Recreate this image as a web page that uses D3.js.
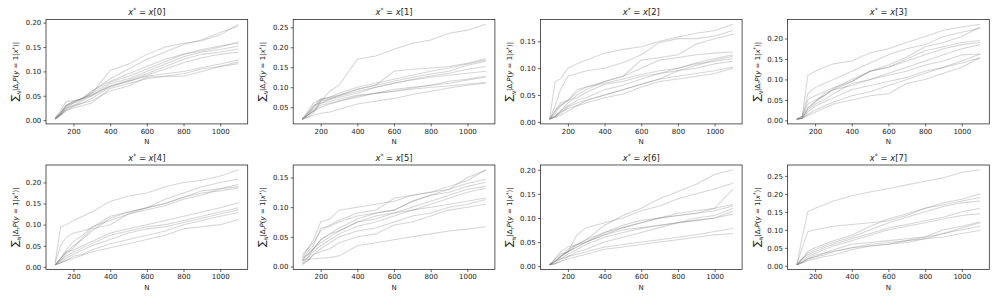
<!DOCTYPE html>
<html>
<head>
<meta charset="utf-8">
<script src="https://cdnjs.cloudflare.com/ajax/libs/d3/7.8.5/d3.min.js"></script>
<style>
  body { margin: 0; background: #fff; }
  text { font-family: "DejaVu Sans", sans-serif; fill: #222; }
</style>
</head>
<body>
<div id="chart"></div>
<script>
// Data: N values shared by every line
var nValues = [100, 130, 160, 200, 250, 300, 400, 500, 600, 700, 800, 900, 1000, 1100];

// panel titles index x[i]
var panelIndex = [0, 1, 2, 3, 4, 5, 6, 7];

// x ticks
var xTicks = [200, 400, 600, 800, 1000];

// y ticks per panel
var yTicks0 = [0.00, 0.05, 0.10, 0.15, 0.20];
var yTicks1 = [0.05, 0.10, 0.15, 0.20, 0.25];
var yTicks2 = [0.00, 0.05, 0.10, 0.15];
var yTicks3 = [0.00, 0.05, 0.10, 0.15, 0.20];
var yTicks4 = [0.00, 0.05, 0.10, 0.15, 0.20];
var yTicks5 = [0.00, 0.05, 0.10, 0.15];
var yTicks6 = [0.00, 0.05, 0.10, 0.15, 0.20];
var yTicks7 = [0.00, 0.05, 0.10, 0.15, 0.20, 0.25];

// series values, one list of lines per panel
var panel0 = [
  [0.003,0.015,0.030,0.038,0.045,0.055,0.102,0.115,0.135,0.150,0.158,0.163,0.175,0.197],
  [0.002,0.012,0.025,0.035,0.045,0.058,0.085,0.105,0.125,0.140,0.155,0.165,0.180,0.193],
  [0.004,0.020,0.038,0.040,0.045,0.060,0.080,0.095,0.110,0.125,0.135,0.142,0.150,0.161],
  [0.003,0.015,0.028,0.035,0.042,0.055,0.078,0.090,0.105,0.120,0.135,0.145,0.152,0.158],
  [0.002,0.012,0.025,0.030,0.040,0.050,0.075,0.085,0.100,0.115,0.130,0.140,0.145,0.152],
  [0.003,0.015,0.030,0.038,0.045,0.052,0.070,0.082,0.095,0.110,0.125,0.135,0.140,0.146],
  [0.002,0.010,0.020,0.028,0.035,0.045,0.068,0.080,0.092,0.105,0.118,0.128,0.135,0.140],
  [0.003,0.015,0.030,0.038,0.045,0.050,0.070,0.080,0.090,0.095,0.100,0.108,0.115,0.124],
  [0.002,0.010,0.020,0.025,0.030,0.035,0.065,0.075,0.085,0.090,0.090,0.100,0.110,0.120],
  [0.003,0.012,0.022,0.030,0.035,0.040,0.060,0.070,0.088,0.090,0.095,0.105,0.110,0.116]
];
var panel1 = [
  [0.020,0.030,0.045,0.065,0.090,0.105,0.170,0.178,0.195,0.210,0.218,0.235,0.243,0.258],
  [0.020,0.035,0.050,0.070,0.075,0.080,0.095,0.105,0.140,0.145,0.148,0.152,0.160,0.171],
  [0.020,0.040,0.060,0.070,0.075,0.085,0.100,0.110,0.120,0.130,0.140,0.148,0.158,0.168],
  [0.020,0.030,0.050,0.068,0.072,0.080,0.095,0.105,0.115,0.125,0.133,0.140,0.155,0.165],
  [0.020,0.035,0.055,0.060,0.070,0.078,0.090,0.100,0.110,0.120,0.128,0.135,0.145,0.152],
  [0.020,0.025,0.035,0.065,0.070,0.075,0.085,0.100,0.110,0.118,0.125,0.130,0.135,0.140],
  [0.020,0.030,0.040,0.055,0.060,0.065,0.075,0.085,0.095,0.100,0.105,0.115,0.120,0.128],
  [0.020,0.030,0.040,0.060,0.065,0.070,0.080,0.085,0.090,0.098,0.105,0.110,0.118,0.125],
  [0.020,0.030,0.040,0.050,0.058,0.065,0.078,0.085,0.090,0.095,0.100,0.103,0.108,0.112],
  [0.020,0.025,0.030,0.035,0.038,0.045,0.058,0.065,0.072,0.082,0.090,0.098,0.105,0.110]
];
var panel2 = [
  [0.005,0.075,0.080,0.100,0.108,0.115,0.128,0.135,0.140,0.150,0.158,0.165,0.170,0.182],
  [0.005,0.030,0.060,0.085,0.090,0.095,0.100,0.110,0.125,0.148,0.155,0.155,0.160,0.170],
  [0.005,0.010,0.020,0.035,0.050,0.060,0.075,0.085,0.115,0.120,0.125,0.145,0.155,0.163],
  [0.005,0.020,0.030,0.040,0.055,0.065,0.075,0.085,0.100,0.115,0.120,0.125,0.128,0.130],
  [0.005,0.010,0.020,0.030,0.040,0.045,0.060,0.068,0.080,0.090,0.100,0.110,0.118,0.125],
  [0.005,0.015,0.030,0.040,0.045,0.055,0.070,0.075,0.085,0.090,0.095,0.105,0.115,0.122],
  [0.005,0.020,0.035,0.040,0.060,0.065,0.072,0.080,0.088,0.095,0.100,0.108,0.113,0.118],
  [0.005,0.010,0.015,0.028,0.035,0.040,0.050,0.060,0.070,0.080,0.095,0.100,0.108,0.113],
  [0.005,0.008,0.012,0.020,0.030,0.040,0.050,0.060,0.070,0.080,0.085,0.090,0.095,0.102],
  [0.005,0.010,0.018,0.025,0.030,0.035,0.045,0.052,0.065,0.075,0.080,0.085,0.090,0.100]
];
var panel3 = [
  [0.003,0.010,0.110,0.120,0.130,0.138,0.145,0.165,0.175,0.190,0.205,0.220,0.228,0.235],
  [0.003,0.010,0.065,0.080,0.090,0.100,0.120,0.140,0.160,0.175,0.185,0.205,0.215,0.225],
  [0.003,0.008,0.050,0.060,0.070,0.080,0.095,0.120,0.135,0.155,0.180,0.190,0.205,0.228],
  [0.003,0.010,0.040,0.050,0.060,0.075,0.095,0.120,0.130,0.150,0.170,0.180,0.190,0.195],
  [0.003,0.005,0.030,0.045,0.060,0.078,0.100,0.120,0.130,0.145,0.160,0.175,0.185,0.190],
  [0.003,0.005,0.025,0.040,0.050,0.065,0.090,0.100,0.115,0.130,0.145,0.160,0.175,0.185],
  [0.003,0.005,0.030,0.045,0.065,0.075,0.085,0.100,0.110,0.120,0.135,0.145,0.160,0.162],
  [0.003,0.005,0.020,0.035,0.045,0.055,0.075,0.085,0.095,0.105,0.120,0.130,0.145,0.162],
  [0.003,0.005,0.015,0.025,0.035,0.045,0.060,0.070,0.085,0.100,0.115,0.130,0.140,0.153],
  [0.003,0.005,0.012,0.020,0.030,0.040,0.050,0.060,0.065,0.090,0.100,0.115,0.130,0.153]
];
var panel4 = [
  [0.010,0.095,0.100,0.110,0.120,0.130,0.155,0.168,0.175,0.190,0.200,0.205,0.215,0.230],
  [0.010,0.050,0.070,0.080,0.085,0.092,0.120,0.130,0.140,0.160,0.175,0.190,0.200,0.208],
  [0.005,0.020,0.040,0.060,0.075,0.095,0.110,0.125,0.135,0.145,0.160,0.170,0.185,0.195],
  [0.005,0.020,0.035,0.050,0.065,0.085,0.115,0.130,0.140,0.150,0.165,0.180,0.185,0.190],
  [0.005,0.015,0.030,0.045,0.070,0.090,0.100,0.125,0.140,0.150,0.165,0.175,0.180,0.187],
  [0.005,0.020,0.035,0.040,0.050,0.060,0.080,0.090,0.100,0.110,0.120,0.130,0.140,0.152],
  [0.005,0.015,0.025,0.035,0.045,0.055,0.075,0.085,0.095,0.100,0.110,0.120,0.130,0.140],
  [0.005,0.010,0.020,0.030,0.040,0.050,0.065,0.080,0.090,0.095,0.105,0.115,0.125,0.135],
  [0.005,0.010,0.015,0.025,0.030,0.040,0.055,0.065,0.075,0.085,0.100,0.110,0.120,0.128],
  [0.005,0.010,0.015,0.020,0.028,0.035,0.045,0.055,0.065,0.075,0.090,0.095,0.100,0.112]
];
var panel5 = [
  [0.015,0.030,0.045,0.075,0.080,0.095,0.100,0.105,0.110,0.120,0.125,0.135,0.145,0.163],
  [0.020,0.030,0.040,0.060,0.070,0.078,0.090,0.095,0.115,0.120,0.125,0.130,0.150,0.162],
  [0.010,0.025,0.035,0.065,0.068,0.075,0.085,0.090,0.095,0.110,0.120,0.130,0.140,0.147],
  [0.010,0.020,0.030,0.045,0.055,0.065,0.080,0.090,0.095,0.110,0.120,0.125,0.135,0.142],
  [0.005,0.015,0.030,0.040,0.050,0.060,0.075,0.085,0.090,0.100,0.110,0.120,0.130,0.135],
  [0.015,0.020,0.030,0.045,0.055,0.060,0.075,0.080,0.090,0.095,0.105,0.115,0.125,0.132],
  [0.010,0.015,0.025,0.035,0.045,0.055,0.068,0.075,0.085,0.095,0.100,0.105,0.110,0.116],
  [0.005,0.010,0.020,0.030,0.040,0.050,0.060,0.065,0.075,0.085,0.090,0.100,0.105,0.113],
  [0.003,0.010,0.020,0.025,0.030,0.040,0.050,0.055,0.070,0.075,0.085,0.095,0.100,0.105],
  [0.010,0.012,0.013,0.014,0.015,0.018,0.035,0.040,0.045,0.050,0.055,0.060,0.063,0.067]
];
var panel6 = [
  [0.003,0.010,0.020,0.030,0.045,0.055,0.085,0.105,0.120,0.140,0.155,0.170,0.190,0.200],
  [0.003,0.015,0.025,0.030,0.065,0.080,0.090,0.100,0.115,0.125,0.140,0.150,0.160,0.172],
  [0.003,0.010,0.020,0.035,0.045,0.055,0.070,0.085,0.095,0.100,0.105,0.110,0.120,0.160],
  [0.003,0.010,0.020,0.030,0.040,0.050,0.070,0.080,0.090,0.100,0.110,0.115,0.120,0.128],
  [0.003,0.015,0.030,0.040,0.045,0.050,0.065,0.080,0.090,0.100,0.105,0.110,0.115,0.125],
  [0.003,0.010,0.020,0.030,0.040,0.050,0.065,0.075,0.080,0.085,0.090,0.100,0.105,0.120],
  [0.003,0.005,0.015,0.025,0.035,0.045,0.060,0.070,0.078,0.085,0.090,0.095,0.100,0.114],
  [0.003,0.010,0.015,0.020,0.030,0.035,0.050,0.060,0.070,0.080,0.090,0.095,0.100,0.108],
  [0.003,0.005,0.010,0.020,0.025,0.030,0.040,0.045,0.050,0.055,0.060,0.065,0.072,0.078],
  [0.003,0.005,0.010,0.015,0.020,0.025,0.035,0.040,0.045,0.050,0.055,0.060,0.065,0.068]
];
var panel7 = [
  [0.003,0.080,0.150,0.160,0.170,0.180,0.195,0.205,0.215,0.225,0.235,0.245,0.260,0.267],
  [0.003,0.050,0.095,0.100,0.105,0.110,0.115,0.120,0.125,0.140,0.160,0.175,0.185,0.200],
  [0.003,0.020,0.040,0.050,0.060,0.070,0.085,0.110,0.130,0.145,0.160,0.170,0.180,0.190],
  [0.003,0.020,0.035,0.045,0.055,0.065,0.080,0.100,0.120,0.135,0.150,0.165,0.175,0.180],
  [0.003,0.020,0.030,0.040,0.050,0.060,0.075,0.090,0.105,0.115,0.125,0.135,0.150,0.160],
  [0.003,0.015,0.025,0.035,0.045,0.055,0.070,0.085,0.100,0.110,0.120,0.130,0.140,0.145],
  [0.003,0.010,0.020,0.030,0.035,0.045,0.060,0.065,0.070,0.075,0.080,0.100,0.110,0.122],
  [0.003,0.010,0.018,0.025,0.030,0.040,0.050,0.060,0.065,0.070,0.075,0.090,0.105,0.120],
  [0.003,0.010,0.020,0.025,0.035,0.040,0.050,0.055,0.060,0.070,0.080,0.090,0.100,0.110],
  [0.003,0.008,0.015,0.020,0.025,0.030,0.045,0.055,0.060,0.065,0.075,0.080,0.090,0.098]
];

var panels = [panel0, panel1, panel2, panel3, panel4, panel5, panel6, panel7];
var yTickSets = [yTicks0, yTicks1, yTicks2, yTicks3, yTicks4, yTicks5, yTicks6, yTicks7];

// svg container
var svgWidth = 997;
var svgHeight = 299;

// axes grid geometry (pixels)
var colLeft = [46, 293.2, 540.4, 787.6];
var rowTop = [19.4, 165];
var axWidth = 201.7;
var axHeight = 104.5;

var svg = d3.select("#chart").append("svg")
  .attr("width", svgWidth)
  .attr("height", svgHeight);

// matplotlib style limits: data range plus 5% margins
function padded(lo, hi) {
  var pad = (hi - lo) * 0.05;
  return [lo - pad, hi + pad];
}

panels.forEach(function(lines, p) {
  var left = colLeft[p % 4];
  var top = rowTop[Math.floor(p / 4)];

  var g = svg.append("g")
    .attr("transform", "translate(" + left + "," + top + ")");

  var xScale = d3.scaleLinear()
    .domain(padded(d3.min(nValues), d3.max(nValues)))
    .range([0, axWidth]);

  var allVals = d3.merge(lines);
  var yScale = d3.scaleLinear()
    .domain(padded(d3.min(allVals), d3.max(allVals)))
    .range([axHeight, 0]);

  var line = d3.line()
    .x(function(d, i) { return xScale(nValues[i]); })
    .y(function(d) { return yScale(d); });

  // the lines
  g.selectAll("path.run")
    .data(lines)
    .enter()
    .append("path")
    .attr("class", "run")
    .attr("d", line)
    .attr("fill", "none")
    .attr("stroke", "#808080")
    .attr("stroke-width", 1.05)
    .attr("stroke-opacity", 0.32);

  // axes
  var bottomAxis = d3.axisBottom(xScale)
    .tickValues(xTicks)
    .tickSize(2.5)
    .tickPadding(2.2)
    .tickFormat(d3.format("d"));
  var leftAxis = d3.axisLeft(yScale)
    .tickValues(yTickSets[p])
    .tickSize(2.5)
    .tickPadding(2.2)
    .tickFormat(d3.format(".2f"));

  var xa = g.append("g")
    .attr("transform", "translate(0," + axHeight + ")")
    .call(bottomAxis);
  var ya = g.append("g").call(leftAxis);

  [xa, ya].forEach(function(a) {
    a.select(".domain").remove();
    a.selectAll("line").attr("stroke", "#222").attr("stroke-width", 0.7);
    a.selectAll("text")
      .style("font-family", "DejaVu Sans")
      .style("font-size", "7px")
      .attr("fill", "#222");
  });

  // frame
  g.append("rect")
    .attr("width", axWidth)
    .attr("height", axHeight)
    .attr("fill", "none")
    .attr("stroke", "#222")
    .attr("stroke-width", 0.75);

  // title  x* = x[i]
  var title = g.append("text")
    .attr("x", axWidth / 2)
    .attr("y", -4.3)
    .attr("text-anchor", "middle")
    .style("font-size", "8.4px");
  title.append("tspan").style("font-style", "italic").text("x");
  title.append("tspan").attr("dy", -3).style("font-size", "6px").text("*");
  title.append("tspan").attr("dy", 3).text(" = ");
  title.append("tspan").style("font-style", "italic").text("x");
  title.append("tspan").text("[" + panelIndex[p] + "]");

  // x label
  g.append("text")
    .attr("x", axWidth / 2)
    .attr("y", axHeight + 20.3)
    .attr("text-anchor", "middle")
    .style("font-size", "7px")
    .text("N");

  // y label  sum_N |Delta_r P(y = 1|x*)|
  var yl = g.append("text")
    .attr("transform", "translate(-28,"+ (axHeight / 2) + ") rotate(-90)")
    .attr("text-anchor", "middle")
    .style("font-size", "7px");
  yl.append("tspan").style("font-size", "10px").text("\u2211");
  yl.append("tspan").attr("dy", 3.2).style("font-size", "5px").style("font-style", "italic").text("N");
  yl.append("tspan").attr("dy", -3.2).text("|\u0394");
  yl.append("tspan").attr("dy", 1.5).style("font-size", "5px").style("font-style", "italic").text("r");
  yl.append("tspan").attr("dy", -1.5).style("font-style", "italic").text("P");
  yl.append("tspan").text("(");
  yl.append("tspan").style("font-style", "italic").text("y");
  yl.append("tspan").text(" = 1|");
  yl.append("tspan").style("font-style", "italic").text("x");
  yl.append("tspan").attr("dy", -2.5).style("font-size", "5px").text("*");
  yl.append("tspan").attr("dy", 2.5).text(")|");
});
</script>
</body>
</html>
